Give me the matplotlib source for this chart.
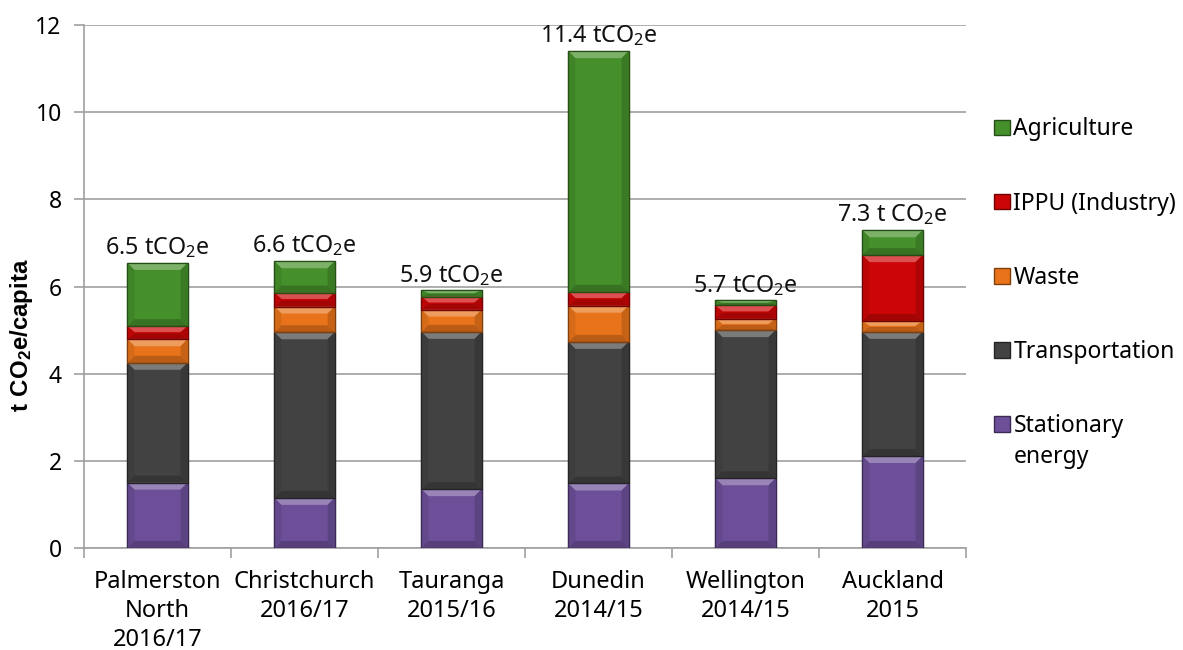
import matplotlib
matplotlib.use("Agg")
import matplotlib.pyplot as plt
import numpy as np
from matplotlib.patches import Patch, Polygon
from matplotlib.colors import to_rgb

plt.rcParams['font.family'] = ['Noto Sans', 'DejaVu Sans']
plt.rcParams['mathtext.fontset'] = 'custom'
plt.rcParams['mathtext.rm'] = 'Noto Sans'
plt.rcParams['mathtext.bf'] = 'Liberation Sans:bold'
plt.rcParams['mathtext.default'] = 'regular'

categories = ["Palmerston\nNorth\n2016/17", "Christchurch\n2016/17", "Tauranga\n2015/16",
              "Dunedin\n2014/15", "Wellington\n2014/15", "Auckland\n2015"]
stationary = [1.50, 1.15, 1.35, 1.48, 1.60, 2.11]
transport = [2.75, 3.80, 3.61, 3.25, 3.40, 2.85]
waste = [0.54, 0.59, 0.51, 0.83, 0.26, 0.25]
ippu = [0.30, 0.32, 0.30, 0.32, 0.31, 1.51]
agriculture = [1.45, 0.72, 0.14, 5.52, 0.11, 0.57]
totals_text = ["6.5 tCO$_2$e", "6.6 tCO$_2$e", "5.9 tCO$_2$e", "11.4 tCO$_2$e", "5.7 tCO$_2$e", "7.3 t CO$_2$e"]

series = [
    ("Stationary", stationary, "#6C4F98"),
    ("Transportation", transport, "#424242"),
    ("Waste", waste, "#E8731A"),
    ("IPPU (Industry)", ippu, "#CC0606"),
    ("Agriculture", agriculture, "#45902A"),
]


def shade(c, f):
    r, g, b = to_rgb(c)
    if f >= 0:
        return (r + (1 - r) * f, g + (1 - g) * f, b + (1 - b) * f)
    return (r * (1 + f), g * (1 + f), b * (1 + f))


FS = 16.5
fig = plt.figure(figsize=(11.83, 6.5), dpi=100)
ax = fig.add_axes([84/1183, 1-548/650, (966-84)/1183, (548-25)/650])
ax.set_xlim(-0.5, len(categories) - 0.5)
ax.set_ylim(0, 12)

x = np.arange(len(categories))
bottom = np.zeros(len(categories))
handles = []
px_x = (len(categories)) / 882.0
px_y = 12 / 523.0
for name, vals, col in series:
    vals = np.array(vals)
    bars = ax.bar(x, vals, width=0.41, bottom=bottom, color=col,
                  edgecolor=shade(col, -0.45), linewidth=0.9, zorder=3)
    for r in bars:
        bx, by, bw, bh = r.get_x(), r.get_y(), r.get_width(), r.get_height()
        dy = min(7 * px_y, bh / 2.2)
        dx = min(7 * px_x, bw / 2.2)
        top = Polygon([(bx, by + bh), (bx + bw, by + bh), (bx + bw - dx, by + bh - dy), (bx + dx, by + bh - dy)],
                      closed=True, facecolor=shade(col, 0.30), edgecolor='none', zorder=4)
        bot = Polygon([(bx, by), (bx + bw, by), (bx + bw - dx, by + dy), (bx + dx, by + dy)],
                      closed=True, facecolor=shade(col, -0.20), edgecolor='none', zorder=4)
        left = Polygon([(bx, by), (bx + dx, by + dy), (bx + dx, by + bh - dy), (bx, by + bh)],
                       closed=True, facecolor=shade(col, -0.08), edgecolor='none', zorder=4)
        right = Polygon([(bx + bw, by), (bx + bw - dx, by + dy), (bx + bw - dx, by + bh - dy), (bx + bw, by + bh)],
                        closed=True, facecolor=shade(col, -0.15), edgecolor='none', zorder=4)
        for p in (top, bot, left, right):
            ax.add_patch(p)
        ax.add_patch(plt.Rectangle((bx, by), bw, bh, fill=False, edgecolor=shade(col, -0.45),
                                   linewidth=0.9, zorder=5))
    bottom += vals
    handles.append(Patch(facecolor=col, edgecolor=shade(col, -0.45), label=name))

for xi, tot, txt in zip(x, bottom, totals_text):
    ax.annotate(txt, (xi, tot), xytext=(0, 2), textcoords="offset points",
                ha="center", va="bottom", fontsize=FS + 0.3, color="#111111")

ax.set_yticks(np.arange(0, 13, 2))
ax.yaxis.grid(True, color="#A0A0A0", linewidth=1.2, zorder=0)
ax.set_axisbelow(True)

ax.set_xticks(x)
ax.set_xticklabels(categories, fontsize=17, linespacing=1.28)
ax.set_xticks(np.arange(-0.5, len(categories), 1), minor=True)
ax.tick_params(axis='x', which='major', length=0, pad=16)
ax.tick_params(axis='x', which='minor', length=7, color="#A0A0A0", width=1.2)
ax.tick_params(axis='y', length=7, color="#A0A0A0", width=1.2, labelsize=FS, pad=9)

for s in ["top", "right"]:
    ax.spines[s].set_visible(False)
for s in ["left", "bottom"]:
    ax.spines[s].set_color("#A0A0A0")
    ax.spines[s].set_linewidth(1.2)

fig.text(22/1183, 1-335/650, r"$\mathbf{t\ CO_{2}e/capita}$", rotation=90, ha="center", va="center",
         fontsize=17.3)

leg = fig.legend(handles=handles[::-1], loc="upper left", bbox_to_anchor=(983/1183, 1-106/650),
                 frameon=False, fontsize=FS, handlelength=0.68, handleheight=0.68,
                 handletextpad=0.15, labelspacing=2.19, borderpad=0)
fig.canvas.draw()
last = leg.get_texts()[-1]
bb = last.get_window_extent()
fig.text(bb.x0, bb.y0 - 7, "energy", transform=None, ha="left", va="top", fontsize=FS)

fig.savefig("out.png", dpi=100)
